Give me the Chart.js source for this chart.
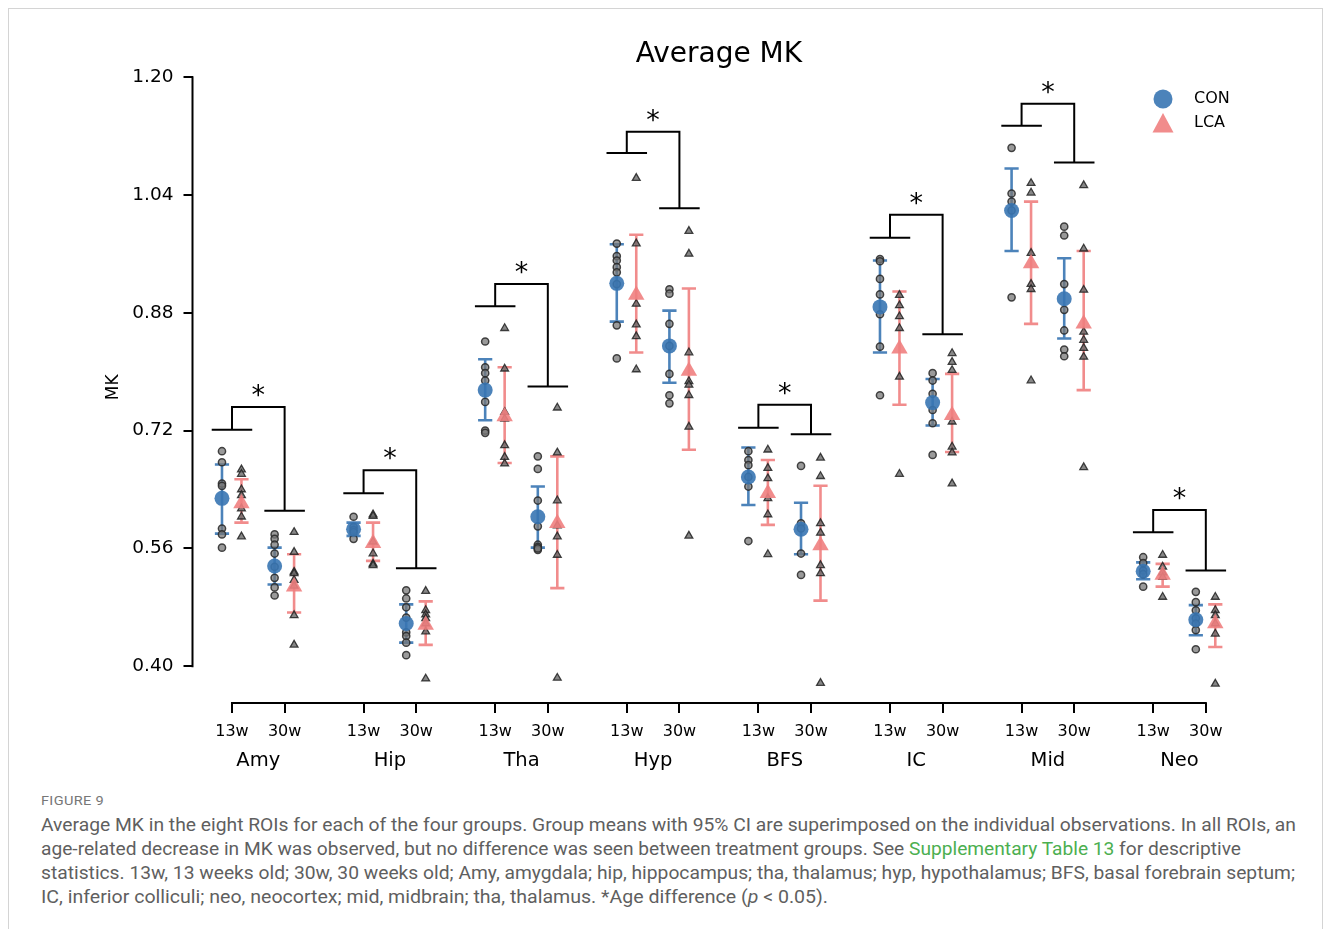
<!DOCTYPE html>
<html>
<head>
<meta charset="utf-8">
<title>Average MK</title>
<script src="https://cdn.jsdelivr.net/npm/chart.js@4.4.0/dist/chart.umd.min.js"></script>
<style>
body { margin: 0; background: #fff; }
#frame { position: absolute; left: 8px; top: 8px; width: 1313px; height: 1000px; border: 1px solid #d4d4d4; }
#wrap { position: absolute; left: 0; top: 0; width: 1331px; height: 790px; }
.cap { position: absolute; left: 41px; white-space: nowrap; font-family: Roboto, "Liberation Sans", sans-serif;
       font-size: 17.5px; line-height: 24px; color: #5f5f5f; transform-origin: 0 50%; }
#fig { top: 790px; font-size: 13.5px; line-height: 20px; color: #777; letter-spacing: 0.3px; }
.cap a { color: #4caf50; text-decoration: none; }
</style>
</head>
<body>
<div id="frame"></div>
<div id="wrap"><canvas id="myChart" width="1331" height="790"></canvas></div>

<div class="cap" id="fig" data-w="63">FIGURE 9</div>
<div class="cap" data-w="1255" style="top:813px">Average MK in the eight ROIs for each of the four groups. Group means with 95% CI are superimposed on the individual observations. In all ROIs, an</div>
<div class="cap" data-w="1200" style="top:837px">age-related decrease in MK was observed, but no difference was seen between treatment groups. See <a>Supplementary Table 13</a> for descriptive</div>
<div class="cap" data-w="1254" style="top:861px">statistics. 13w, 13 weeks old; 30w, 30 weeks old; Amy, amygdala; hip, hippocampus; tha, thalamus; hyp, hypothalamus; BFS, basal forebrain septum;</div>
<div class="cap" data-w="787" style="top:885px">IC, inferior colliculi; neo, neocortex; mid, midbrain; tha, thalamus. *Age difference (<i>p</i> &lt; 0.05).</div>

<script>
// categories and ticks
var rois = ['Amy', 'Hip', 'Tha', 'Hyp', 'BFS', 'IC', 'Mid', 'Neo'];
var ages = ['13w', '30w'];
var yTicks = [0.40, 0.56, 0.72, 0.88, 1.04, 1.20];

// individual observations, one list per ROI
var conPts13 = [
    [0.692, 0.677, 0.648, 0.645, 0.587, 0.579, 0.561],
    [0.603, 0.589, 0.585, 0.582, 0.573],
    [0.841, 0.806, 0.798, 0.788, 0.759, 0.720, 0.717],
    [0.974, 0.957, 0.951, 0.942, 0.935, 0.919, 0.863, 0.818],
    [0.692, 0.680, 0.673, 0.657, 0.644, 0.570],
    [0.953, 0.950, 0.926, 0.905, 0.878, 0.834, 0.768],
    [1.104, 1.042, 1.031, 1.019, 0.901],
    [0.548, 0.540, 0.530, 0.525, 0.508]
];
var lcaPts13 = [
    [0.667, 0.661, 0.640, 0.632, 0.614, 0.603, 0.576],
    [0.606, 0.604, 0.569, 0.553, 0.539, 0.537],
    [0.859, 0.804, 0.745, 0.736, 0.700, 0.684, 0.675],
    [1.063, 0.974, 0.892, 0.864, 0.848, 0.803],
    [0.694, 0.669, 0.655, 0.628, 0.606, 0.552],
    [0.904, 0.890, 0.875, 0.859, 0.793, 0.661],
    [1.056, 1.043, 0.961, 0.919, 0.912, 0.788],
    [0.551, 0.535, 0.527, 0.521, 0.494]
];
var conPts30 = [
    [0.579, 0.573, 0.565, 0.553, 0.535, 0.520, 0.507, 0.496],
    [0.503, 0.492, 0.480, 0.466, 0.446, 0.441, 0.432, 0.415],
    [0.685, 0.668, 0.625, 0.590, 0.565, 0.562, 0.558, 0.560],
    [0.912, 0.906, 0.865, 0.835, 0.797, 0.768, 0.757],
    [0.672, 0.594, 0.587, 0.553, 0.524],
    [0.798, 0.788, 0.770, 0.748, 0.730, 0.687],
    [0.997, 0.985, 0.919, 0.884, 0.856, 0.830, 0.821],
    [0.501, 0.487, 0.476, 0.465, 0.458, 0.449, 0.423]
];
var lcaPts30 = [
    [0.582, 0.555, 0.528, 0.526, 0.517, 0.509, 0.469, 0.429],
    [0.502, 0.476, 0.470, 0.465, 0.458, 0.447, 0.383],
    [0.751, 0.690, 0.625, 0.591, 0.576, 0.551, 0.384],
    [0.991, 0.960, 0.826, 0.787, 0.782, 0.768, 0.725, 0.577],
    [0.683, 0.658, 0.594, 0.581, 0.537, 0.526, 0.377],
    [0.825, 0.813, 0.802, 0.732, 0.698, 0.690, 0.648],
    [1.053, 0.967, 0.911, 0.854, 0.843, 0.832, 0.820, 0.670],
    [0.494, 0.476, 0.469, 0.458, 0.444, 0.376]
];

// group means and 95% CI
var conMean13 = [0.628, 0.586, 0.775, 0.920, 0.657, 0.888, 1.019, 0.529];
var conLo13   = [0.580, 0.577, 0.734, 0.868, 0.619, 0.826, 0.964, 0.518];
var conHi13   = [0.674, 0.595, 0.817, 0.973, 0.697, 0.951, 1.076, 0.541];
var lcaMean13 = [0.621, 0.567, 0.739, 0.904, 0.635, 0.831, 0.947, 0.524];
var lcaLo13   = [0.595, 0.543, 0.676, 0.826, 0.592, 0.755, 0.865, 0.508];
var lcaHi13   = [0.654, 0.595, 0.806, 0.986, 0.680, 0.909, 1.031, 0.539];
var conMean30 = [0.536, 0.458, 0.603, 0.835, 0.586, 0.758, 0.899, 0.463];
var conLo30   = [0.511, 0.432, 0.561, 0.785, 0.552, 0.727, 0.845, 0.442];
var conHi30   = [0.561, 0.484, 0.644, 0.883, 0.622, 0.790, 0.954, 0.483];
var lcaMean30 = [0.508, 0.456, 0.594, 0.801, 0.564, 0.741, 0.865, 0.458];
var lcaLo30   = [0.473, 0.429, 0.506, 0.694, 0.489, 0.691, 0.775, 0.426];
var lcaHi30   = [0.552, 0.488, 0.685, 0.913, 0.645, 0.797, 0.964, 0.484];

// age-difference brackets (heights)
var brLeft  = [0.721, 0.635, 0.889, 1.097, 0.724, 0.982, 1.134, 0.582];
var brTop   = [0.752, 0.666, 0.919, 1.126, 0.755, 1.013, 1.164, 0.612];
var brRight = [0.611, 0.533, 0.780, 1.022, 0.715, 0.851, 1.084, 0.530];

var BLUE = 'rgba(56,117,178,0.9)';
var PINK = 'rgba(240,128,128,0.9)';
var conOff = -0.38, lcaOff = 0.36;

function xPos(i, j) {
    return i * 5 + j * 2;
}

function pointData(p13, p30, off) {
    var out = [];
    for (var i = 0; i < rois.length; i++) {
        p13[i].forEach(function (v) { out.push({x: xPos(i, 0) + off, y: v}); });
        p30[i].forEach(function (v) { out.push({x: xPos(i, 1) + off, y: v}); });
    }
    return out;
}

function meanData(m13, m30, off) {
    var out = [];
    for (var i = 0; i < rois.length; i++) {
        out.push({x: xPos(i, 0) + off, y: m13[i]});
        out.push({x: xPos(i, 1) + off, y: m30[i]});
    }
    return out;
}

function errData(lo13, hi13, lo30, hi30, off) {
    var cap = 0.27, out = [];
    function bar(x, lo, hi) {
        out.push({x: x, y: lo}, {x: x, y: hi}, {x: x, y: null},
                 {x: x - cap, y: lo}, {x: x + cap, y: lo}, {x: x, y: null},
                 {x: x - cap, y: hi}, {x: x + cap, y: hi}, {x: x, y: null});
    }
    for (var i = 0; i < rois.length; i++) {
        bar(xPos(i, 0) + off, lo13[i], hi13[i]);
        bar(xPos(i, 1) + off, lo30[i], hi30[i]);
    }
    return out;
}

function bracketData() {
    var w = 0.77, out = [];
    for (var i = 0; i < rois.length; i++) {
        var a = xPos(i, 0), b = xPos(i, 1);
        out.push({x: a - w, y: brLeft[i]}, {x: a + w, y: brLeft[i]}, {x: a, y: null},
                 {x: a, y: brLeft[i]}, {x: a, y: brTop[i]}, {x: b, y: brTop[i]}, {x: b, y: brRight[i]}, {x: b, y: null},
                 {x: b - w, y: brRight[i]}, {x: b + w, y: brRight[i]}, {x: b, y: null});
    }
    return out;
}

// spines, asterisks and legend
var decor = {
    id: 'decor',
    afterDraw: function (chart) {
        var c = chart.ctx, xs = chart.scales.x, ys = chart.scales.y, a = chart.chartArea;
        c.save();
        c.strokeStyle = '#000';
        c.lineWidth = 2;
        c.beginPath();
        c.moveTo(a.left, ys.getPixelForValue(yTicks[0]) + 1);
        c.lineTo(a.left, ys.getPixelForValue(yTicks[yTicks.length - 1]) - 1);
        c.moveTo(xs.getPixelForValue(xPos(0, 0)) - 1, a.bottom);
        c.lineTo(xs.getPixelForValue(xPos(rois.length - 1, 1)) + 1, a.bottom);
        c.stroke();

        c.fillStyle = '#000';
        c.font = '27px "DejaVu Sans"';
        c.textAlign = 'center';
        c.textBaseline = 'alphabetic';
        for (var i = 0; i < rois.length; i++) {
            c.fillText('*', xs.getPixelForValue(xPos(i, 0) + 1), ys.getPixelForValue(brTop[i]) - 3);
        }

        // legend
        c.fillStyle = BLUE;
        c.beginPath();
        c.arc(1163, 99, 9.5, 0, Math.PI * 2);
        c.fill();
        c.fillStyle = PINK;
        c.beginPath();
        c.moveTo(1163, 113);
        c.lineTo(1173.5, 132.5);
        c.lineTo(1152.5, 132.5);
        c.closePath();
        c.fill();
        c.fillStyle = '#000';
        c.font = '16px "DejaVu Sans"';
        c.textAlign = 'left';
        c.textBaseline = 'middle';
        c.fillText('CON', 1194, 99);
        c.fillText('LCA', 1194, 123);
        c.restore();
    }
};

Chart.defaults.font.family = "'DejaVu Sans', sans-serif";
Chart.defaults.color = '#000';

var ctx = document.getElementById('myChart').getContext('2d');
var chart = new Chart(ctx, {
    type: 'scatter',
    data: {
        datasets: [
            {label: 'CON mean', data: meanData(conMean13, conMean30, conOff), pointStyle: 'circle',
             pointRadius: 7.5, backgroundColor: BLUE, borderColor: BLUE, borderWidth: 0, order: 0},
            {label: 'LCA mean', data: meanData(lcaMean13, lcaMean30, lcaOff), pointStyle: 'triangle',
             pointRadius: 9.5, backgroundColor: PINK, borderColor: PINK, borderWidth: 0, order: 0},
            {label: 'CON', data: pointData(conPts13, conPts30, conOff), pointStyle: 'circle', pointRadius: 3.6,
             backgroundColor: 'rgba(120,120,120,0.75)', borderColor: 'rgba(40,40,40,0.85)', borderWidth: 1.5, order: 1},
            {label: 'LCA', data: pointData(lcaPts13, lcaPts30, lcaOff), pointStyle: 'triangle', pointRadius: 4.5,
             backgroundColor: 'rgba(105,105,105,0.8)', borderColor: 'rgba(35,35,35,0.85)', borderWidth: 1.3, order: 1},
            {type: 'line', label: 'CON CI', data: errData(conLo13, conHi13, conLo30, conHi30, conOff),
             borderColor: BLUE, borderWidth: 2.6, pointRadius: 0, fill: false, spanGaps: false, order: 2},
            {type: 'line', label: 'LCA CI', data: errData(lcaLo13, lcaHi13, lcaLo30, lcaHi30, lcaOff),
             borderColor: PINK, borderWidth: 2.6, pointRadius: 0, fill: false, spanGaps: false, order: 2},
            {type: 'line', label: 'Age difference', data: bracketData(),
             borderColor: '#000', borderWidth: 2, pointRadius: 0, fill: false, spanGaps: false, order: 3}
        ]
    },
    options: {
        responsive: false,
        animation: false,
        events: [],
        layout: {padding: {left: 0, right: 85.7, top: 0, bottom: 7}},
        plugins: {
            legend: {display: false},
            tooltip: {enabled: false},
            title: {display: true, text: 'Average MK', fullSize: false, color: '#000',
                    font: {size: 28, weight: 'normal'}, padding: {top: 38, bottom: 0}}
        },
        scales: {
            x: {
                type: 'linear', position: 'bottom', min: -1.5, max: 38.5,
                afterBuildTicks: function (s) {
                    var t = [];
                    for (var i = 0; i < rois.length; i++) { t.push({value: xPos(i, 0)}, {value: xPos(i, 1)}); }
                    s.ticks = t;
                },
                afterFit: function (s) { s.height = 40; },
                ticks: {autoSkip: false, maxRotation: 0, padding: 9, font: {size: 16},
                        callback: function (v, i) { return ages[i % 2]; }},
                grid: {drawOnChartArea: false, drawTicks: true, tickLength: 10, color: '#000', lineWidth: 2},
                border: {display: false}
            },
            x2: {
                type: 'linear', position: 'bottom', min: -1.5, max: 38.5,
                afterBuildTicks: function (s) {
                    s.ticks = rois.map(function (r, i) { return {value: xPos(i, 0) + 1}; });
                },
                afterFit: function (s) { s.height = 40; },
                ticks: {autoSkip: false, maxRotation: 0, padding: 6, font: {size: 19.5},
                        callback: function (v, i) { return rois[i]; }},
                grid: {display: false, drawTicks: false},
                border: {display: false}
            },
            y: {
                min: 0.35, max: 1.2076,
                afterBuildTicks: function (s) {
                    s.ticks = yTicks.map(function (v) { return {value: v}; });
                },
                afterFit: function (s) { s.width = 192.5; },
                ticks: {padding: 10, font: {size: 18.5}, callback: function (v) { return v.toFixed(2); }},
                grid: {drawOnChartArea: false, drawTicks: true, tickLength: 9, color: '#000', lineWidth: 2},
                border: {display: false},
                title: {display: true, text: 'MK', color: '#000', font: {size: 17}, padding: {top: 103, bottom: 0}}
            }
        }
    },
    plugins: [decor]
});

// stretch caption lines to the widths of the figure
var caps = document.querySelectorAll('.cap');
for (var k = 0; k < caps.length; k++) {
    var el = caps[k];
    var w = el.getBoundingClientRect().width;
    var target = parseFloat(el.getAttribute('data-w'));
    if (w > 0) el.style.transform = 'scaleX(' + (target / w) + ')';
}
</script>
</body>
</html>
